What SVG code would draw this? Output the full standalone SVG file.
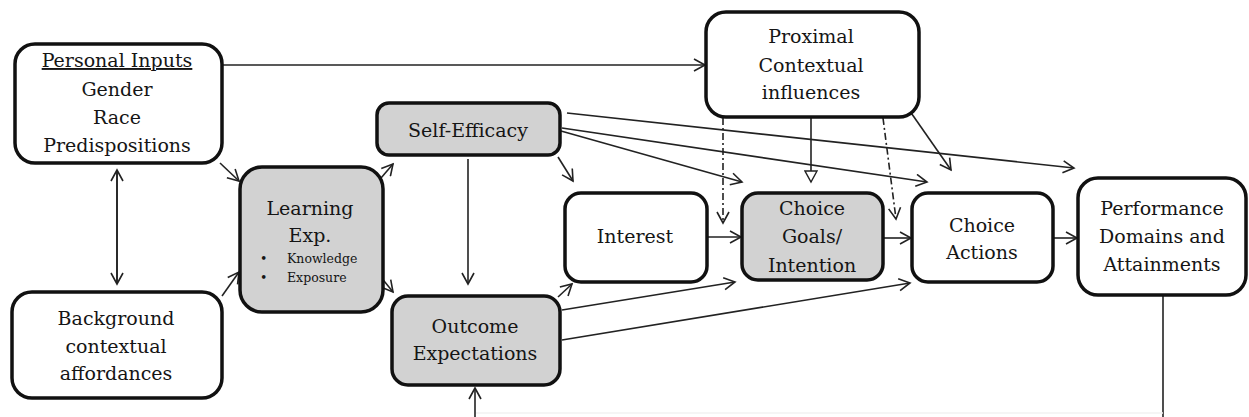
<svg xmlns="http://www.w3.org/2000/svg" width="1249" height="417" viewBox="0 0 1249 417">
<defs>
<style>
.box{fill:#fff;stroke:#111;stroke-width:3.5}
.grey{fill:#d2d2d2}
.t{font-family:"DejaVu Serif","Liberation Serif",serif;font-size:19px;fill:#151515;text-anchor:middle}
.s{font-family:"DejaVu Serif","Liberation Serif",serif;font-size:12.5px;fill:#151515}
.c{fill:none;stroke:#222;stroke-width:1.6}
.a{marker-end:url(#arr)}
.dd{stroke-dasharray:7 3 2 3}
</style>
<marker id="arr" markerUnits="userSpaceOnUse" markerWidth="14" markerHeight="14" viewBox="0 0 14 14" refX="12" refY="7" orient="auto">
<path d="M1,1 L12,7 L1,13" fill="none" stroke="#222" stroke-width="1.6"/>
</marker>
<marker id="tri" markerUnits="userSpaceOnUse" markerWidth="14" markerHeight="14" viewBox="0 0 14 14" refX="12" refY="7" orient="auto">
<path d="M1,1 L12,7 L1,13 Z" fill="#fff" stroke="#222" stroke-width="1.4"/>
</marker>
</defs>
<rect width="1249" height="417" fill="#fff"/>

<g id="connectors">
<line class="c a" x1="222" y1="65" x2="705" y2="65"/>
<line class="c a" x1="117" y1="283" x2="117" y2="170"/>
<line class="c a" x1="117" y1="170" x2="117" y2="284"/>
<line class="c a" x1="220" y1="163" x2="239" y2="181"/>
<line class="c a" x1="222" y1="296" x2="239" y2="272"/>
<line class="c a" x1="381" y1="178" x2="393" y2="164"/>
<line class="c a" x1="380" y1="276" x2="393" y2="292"/>
<line class="c a" x1="468" y1="159" x2="468" y2="284"/>
<line class="c a" x1="558" y1="157" x2="573" y2="181"/>
<line class="c a" x1="561" y1="131" x2="742" y2="182"/>
<line class="c a" x1="562" y1="128" x2="927" y2="182"/>
<line class="c a" x1="567" y1="113" x2="1074" y2="168"/>
<line class="c a" x1="707" y1="237" x2="741" y2="237"/>
<line class="c" x1="811" y1="118" x2="811" y2="182" marker-end="url(#tri)"/>
<line class="c a dd" x1="723" y1="118" x2="723" y2="223"/>
<line class="c a dd" x1="883" y1="118" x2="896" y2="219"/>
<line class="c a" x1="907" y1="107" x2="951" y2="170"/>
<line class="c a" x1="883" y1="238" x2="911" y2="238"/>
<line class="c a" x1="1053" y1="238" x2="1077" y2="238"/>
<line class="c a" x1="558" y1="297" x2="572" y2="284"/>
<line class="c a" x1="562" y1="310" x2="735" y2="282"/>
<line class="c a" x1="562" y1="340" x2="910" y2="283"/>
<line class="c" x1="1163" y1="296" x2="1163" y2="417"/>
<line class="c a" x1="475" y1="417" x2="475" y2="388"/>
<line x1="476" y1="413" x2="1163" y2="413" stroke="#f2f2f2" stroke-width="1.5"/>
</g>

<g id="personal-inputs">
<rect class="box" x="15" y="44" width="207" height="119" rx="20"/>
<text class="t" x="117" y="67" text-decoration="underline">Personal Inputs</text>
<text class="t" x="117" y="96">Gender</text>
<text class="t" x="117" y="124">Race</text>
<text class="t" x="117" y="152">Predispositions</text>
</g>

<g id="background">
<rect class="box" x="12" y="292" width="210" height="106" rx="20"/>
<text class="t" x="116" y="325">Background</text>
<text class="t" x="116" y="353">contextual</text>
<text class="t" x="116" y="380">affordances</text>
</g>

<g id="learning-exp">
<rect class="box grey" x="240" y="167" width="143" height="145" rx="22"/>
<text class="t" x="310" y="215">Learning</text>
<text class="t" x="310" y="242">Exp.</text>
<text class="s" x="260" y="263">•</text>
<text class="s" x="287" y="263">Knowledge</text>
<text class="s" x="260" y="282">•</text>
<text class="s" x="287" y="282">Exposure</text>
</g>

<g id="self-efficacy">
<rect class="box grey" x="377" y="103" width="183" height="52" rx="12"/>
<text class="t" x="468" y="137">Self-Efficacy</text>
</g>

<g id="outcome-expectations">
<rect class="box grey" x="392" y="296" width="168" height="89" rx="16"/>
<text class="t" x="475" y="333">Outcome</text>
<text class="t" x="475" y="360">Expectations</text>
</g>

<g id="interest">
<rect class="box" x="565" y="193" width="142" height="89" rx="16"/>
<text class="t" x="635" y="243">Interest</text>
</g>

<g id="proximal">
<rect class="box" x="706" y="12" width="213" height="105" rx="20"/>
<text class="t" x="811" y="43">Proximal</text>
<text class="t" x="811" y="72">Contextual</text>
<text class="t" x="811" y="99">influences</text>
</g>

<g id="choice-goals">
<rect class="box grey" x="742" y="193" width="141" height="87" rx="16"/>
<text class="t" x="812" y="215">Choice</text>
<text class="t" x="812" y="243">Goals/</text>
<text class="t" x="812" y="272">Intention</text>
</g>

<g id="choice-actions">
<rect class="box" x="912" y="193" width="141" height="89" rx="16"/>
<text class="t" x="982" y="232">Choice</text>
<text class="t" x="982" y="259">Actions</text>
</g>

<g id="performance">
<rect class="box" x="1078" y="178" width="168" height="117" rx="20"/>
<text class="t" x="1162" y="215">Performance</text>
<text class="t" x="1162" y="243">Domains and</text>
<text class="t" x="1162" y="271">Attainments</text>
</g>
</svg>
